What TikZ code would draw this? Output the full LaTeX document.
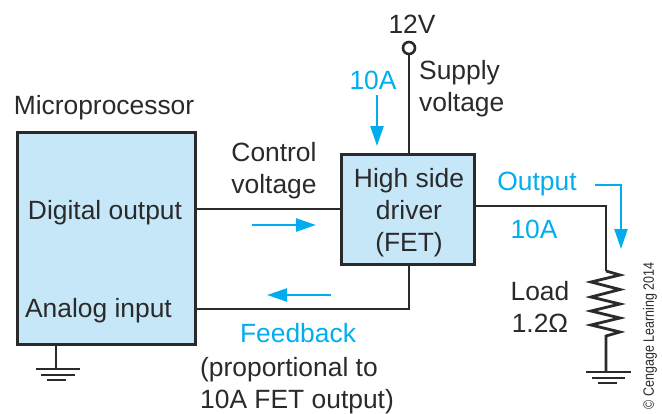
\documentclass[tikz,border=0pt]{standalone}
\usepackage{fontspec}
\setmainfont{Liberation Sans}
\usetikzlibrary{arrows.meta}
\definecolor{boxfill}{HTML}{C6E7F8}
\definecolor{cy}{HTML}{00AEEF}
\definecolor{ink}{HTML}{2B2A2B}
\newcommand{\bigtxt}{\fontsize{26.4}{32}\selectfont}
\tikzset{
  x=1pt,y=-1pt,
  block/.style={draw=ink,line width=3pt,fill=boxfill,inner sep=0pt},
  wire/.style={draw=ink,line width=2.8pt},
  lab/.style={text=ink,font=\bigtxt,inner sep=0pt,align=center},
  clab/.style={text=cy,font=\bigtxt,inner sep=0pt,align=center},
  flow/.style={draw=cy,line width=2.4pt,-{Triangle[length=20pt,width=13pt]}},
}
\begin{document}
\begin{tikzpicture}
\useasboundingbox (0,0) rectangle (662,413);
% blocks
\node[block,minimum width=178pt,minimum height=212pt] (micro) at (106,238) {};
\node[block,minimum width=133pt,minimum height=110pt] (driver) at (407.5,209) {};
\node[lab] (drvtxt) at (409,213) {High side\\driver\\(FET)};
% block labels
\node[lab] (mp) at (104,108) {Microprocessor};
\node[lab] (dout) at (105,213) {Digital output};
\node[lab] (ain) at (98.5,311) {Analog input};
% coordinates
\coordinate (dw) at (195,209);
\coordinate (ae) at (195,309);
\coordinate (fb) at (409,309);
\coordinate (vtop) at (409,48);
\coordinate (corner) at (606,206);
\coordinate (rtop) at (606,271);
\coordinate (gr) at (606,372);
\coordinate (gl) at (56,370);
% wires
\draw[wire] (dw) -- (driver.west |- dw);
\draw[wire] (ae) -- (fb) -- (driver.south -| fb);
\draw[wire] (driver.north -| vtop) -- (vtop);
\node[circle,draw=ink,line width=2.6pt,fill=white,minimum size=12pt,inner sep=0pt] (term) at (vtop) {};
\draw[wire] (driver.east |- corner) -- (corner) -- (rtop);
\draw[wire,line join=miter] (rtop) -- (620,275) -- (591,282) -- (620,289.5) -- (591,297) -- (620,304) -- (591,311) -- (620,318) -- (591,325) -- (620,332) -- (606,336) -- (gr);
% grounds
\draw[wire] (micro.south -| gl) -- (gl);
\draw[wire] (36,369) -- (80,369);
\draw[wire] (41,375) -- (75,375);
\draw[wire] (47,380) -- (66,380);
\draw[wire] (586,372) -- (631,372);
\draw[wire] (592,378) -- (625,378);
\draw[wire] (598,383) -- (617,383);
% labels
\node[lab] (v12) at (412,24) {12V};
\node[lab,align=left,anchor=west] (sv) at (419,89) {Supply\\voltage};
\node[lab] (cv) at (274,171) {Control\\voltage};
\node[lab] (ld) at (540,306.5) {Load\\1.2Ω};
\node[lab,align=left,anchor=west] (prop) at (200,386) {(proportional to\\10A FET output)};
\node[text=ink,font=\fontsize{15}{15}\selectfont,rotate=90,xscale=0.83,inner sep=0pt] (cr) at (650,336) {© Cengage Learning 2014};
% blue
\node[clab] (a1) at (373,80) {10A};
\node[clab] (a2) at (534,229) {10A};
\node[clab] (out) at (537,184) {Output};
\node[clab] (fbk) at (298,333.5) {Feedback};
\coordinate (a1s) at (377,95);
\coordinate (a1e) at (377,146);
\draw[flow] (a1s) -- (a1e);
\coordinate (c1s) at (252,225);
\coordinate (c1e) at (316,225);
\draw[flow] (c1s) -- (c1e);
\coordinate (f1s) at (331,295);
\coordinate (f1e) at (267,295);
\draw[flow] (f1s) -- (f1e);
\coordinate (o1s) at (595,185);
\coordinate (o1c) at (621,185);
\coordinate (o1e) at (621,249);
\draw[flow] (o1s) -- (o1c) -- (o1e);
\end{tikzpicture}
\end{document}
